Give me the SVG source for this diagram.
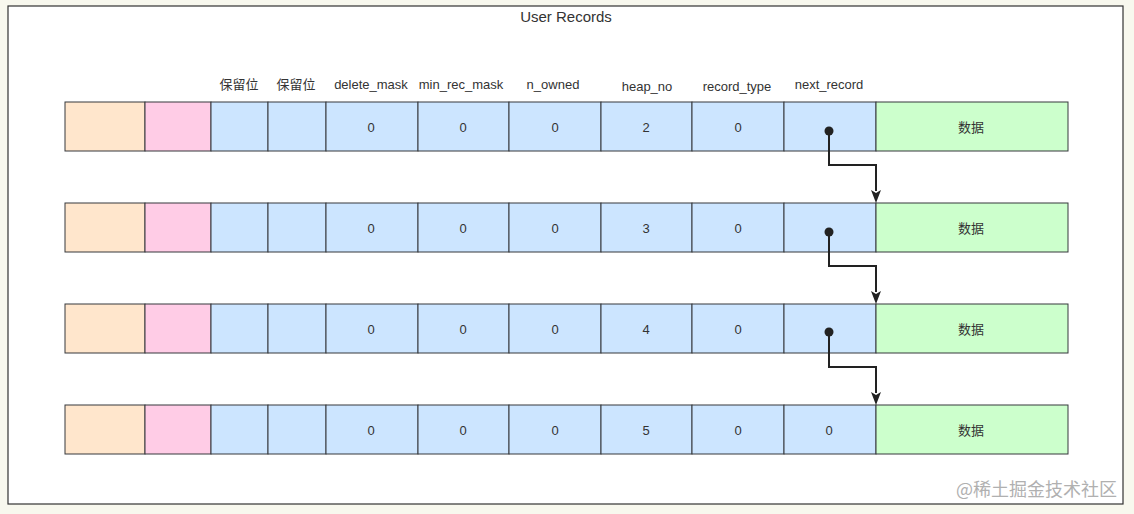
<svg xmlns="http://www.w3.org/2000/svg" width="1134" height="514" viewBox="0 0 1134 514">
<defs>
<style>
.t{font-family:"Liberation Sans","Noto Sans CJK SC",sans-serif;font-size:13px;fill:#333;text-anchor:middle;dominant-baseline:central}
.c{stroke:#36393d;stroke-width:1}
.o{fill:#ffe6cc}.p{fill:#ffcce6}.b{fill:#cce5ff}.g{fill:#ccffcc}
.ln{fill:none;stroke:#222;stroke-width:2}
.ah{fill:#222}
</style>
<g id="rowtpl">
<rect class="c o" x="65" y="0" width="80" height="49"/>
<rect class="c p" x="145" y="0" width="66" height="49"/>
<rect class="c b" x="211" y="0" width="57" height="49"/>
<rect class="c b" x="268" y="0" width="58" height="49"/>
<rect class="c b" x="326" y="0" width="92" height="49"/>
<rect class="c b" x="418" y="0" width="91" height="49"/>
<rect class="c b" x="509" y="0" width="92" height="49"/>
<rect class="c b" x="601" y="0" width="91" height="49"/>
<rect class="c b" x="692" y="0" width="92" height="49"/>
<rect class="c b" x="784" y="0" width="92" height="49"/>
<rect class="c g" x="876" y="0" width="192" height="49"/>
<text class="t" x="371" y="25">0</text>
<text class="t" x="463" y="25">0</text>
<text class="t" x="555" y="25">0</text>
<text class="t" x="738" y="25">0</text>
<text class="t" x="971" y="25">数据</text>
</g>
</defs>
<rect width="1134" height="514" fill="#f8f8ee"/>
<rect x="8" y="6" width="1115" height="498" fill="#ffffff" stroke="#333" stroke-width="1.2"/>
<text class="t" x="566" y="16" style="font-size:15px">User Records</text>
<g id="headers">
<text class="t" x="239" y="84">保留位</text>
<text class="t" x="296" y="84">保留位</text>
<text class="t" x="371" y="84">delete_mask</text>
<text class="t" x="461" y="84">min_rec_mask</text>
<text class="t" x="553" y="84">n_owned</text>
<text class="t" x="647" y="86">heap_no</text>
<text class="t" x="737" y="86">record_type</text>
<text class="t" x="829" y="84">next_record</text>
</g>
<g id="record1" transform="translate(0,102)"><use href="#rowtpl"/><text class="t" x="646" y="25">2</text></g>
<g id="record2" transform="translate(0,203)"><use href="#rowtpl"/><text class="t" x="646" y="25">3</text></g>
<g id="record3" transform="translate(0,304)"><use href="#rowtpl"/><text class="t" x="646" y="25">4</text></g>
<g id="record4" transform="translate(0,405)"><use href="#rowtpl"/><text class="t" x="646" y="25">5</text><text class="t" x="829" y="25">0</text></g>
<g id="connectors">
<circle cx="829" cy="131" r="4.5" fill="#222"/>
<path class="ln" d="M829,131 V165 H876 V191"/>
<path class="ah" d="M871,190 L876,203 L881,190 L876,193 Z"/>
<circle cx="829" cy="232" r="4.5" fill="#222"/>
<path class="ln" d="M829,232 V266 H876 V292"/>
<path class="ah" d="M871,291 L876,304 L881,291 L876,294 Z"/>
<circle cx="829" cy="332" r="4.5" fill="#222"/>
<path class="ln" d="M829,332 V367 H876 V393"/>
<path class="ah" d="M871,392 L876,405 L881,392 L876,395 Z"/>
</g>
<text x="1117" y="488" style="font-family:'Noto Sans CJK SC',sans-serif;font-size:18px;fill:#b0b0b0;text-anchor:end;dominant-baseline:central">@稀土掘金技术社区</text>
</svg>
